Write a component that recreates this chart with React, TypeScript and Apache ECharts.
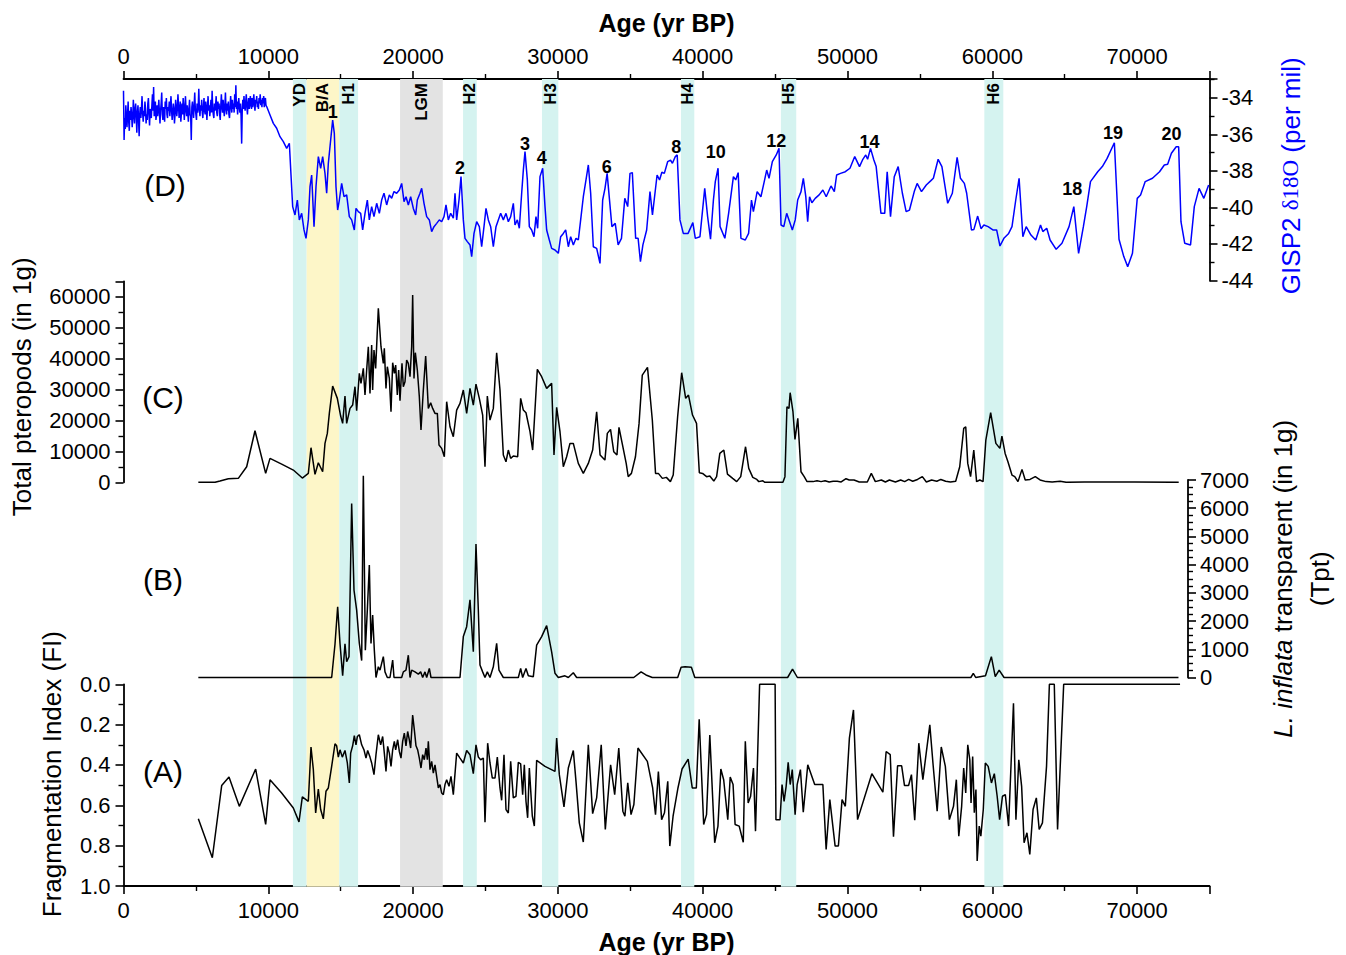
import React, { useEffect, useRef } from "react";
import * as echarts from "echarts";

const FONT = "'Liberation Sans', Arial, Helvetica, sans-serif";

// Shaded intervals (yr BP)
const bandNames = ["YD", "B/A", "H1", "LGM", "H2", "H3", "H4", "H5", "H6"];
const bandStart = [11700, 12650, 14900, 19100, 23450, 28900, 38500, 45400, 59450];
const bandEnd = [12650, 14900, 16200, 22050, 24400, 30030, 39420, 46460, 60760];
const bandKind = ["cold", "warm", "cold", "lgm", "cold", "cold", "cold", "cold", "cold"];
const bandColors: Record<string, string> = { cold: "#d5f3f0", warm: "#fdf6c8", lgm: "#e3e3e3" };

// Interstadial numbers on the GISP2 curve: [label, age, d18O]
const peakLabels: [string, number, number][] = [
  ["1", 14450, -34.79], ["2", 23240, -37.85], ["3", 27730, -36.52], ["4", 28880, -37.31],
  ["6", 33370, -37.76], ["8", 38170, -36.67], ["10", 40900, -36.98], ["12", 45080, -36.36],
  ["14", 51520, -36.39], ["18", 65530, -39.0], ["19", 68330, -35.9], ["20", 72370, -35.97],
];

// (D) GISP2 d18O (per mil)
const gisp2Data: [number, number][] = [
  [0,-33.6],[40,-36.3],[80,-35.1],[120,-35.7],[160,-34.4],[200,-35.0],[240,-35.6],[280,-34.9],[320,-34.2],[360,-35.3],
  [400,-35.8],[440,-34.7],[480,-35.2],[520,-34.5],[560,-34.9],[600,-35.6],[640,-35.1],[680,-34.1],[720,-34.8],[760,-35.4],
  [800,-34.6],[840,-34.3],[880,-35.0],[920,-35.9],[960,-34.8],[1000,-34.4],[1040,-35.2],[1080,-36.1],[1120,-34.9],[1160,-34.5],
  [1200,-35.1],[1240,-34.6],[1280,-33.9],[1320,-34.8],[1360,-35.3],[1400,-34.7],[1440,-35.0],[1480,-34.2],[1520,-34.6],[1560,-35.4],
  [1600,-34.9],[1640,-35.2],[1680,-34.3],[1720,-34.0],[1760,-34.9],[1800,-35.5],[1840,-34.6],[1880,-34.8],[1920,-35.1],[1960,-34.4],
  [2000,-33.8],[2040,-34.7],[2080,-33.4],[2120,-35.0],[2160,-34.5],[2200,-34.2],[2240,-35.2],[2280,-34.9],[2320,-34.4],[2360,-35.0],
  [2400,-34.6],[2440,-34.1],[2480,-34.8],[2520,-35.4],[2560,-34.7],[2600,-34.3],[2640,-33.7],[2680,-34.9],[2720,-35.2],[2760,-34.5],
  [2800,-34.8],[2840,-35.3],[2880,-34.2],[2920,-34.6],[2960,-34.0],[3000,-34.9],[3040,-35.1],[3080,-34.5],[3120,-34.7],[3160,-34.2],
  [3200,-35.0],[3240,-34.4],[3280,-33.9],[3320,-34.7],[3360,-35.2],[3400,-34.8],[3440,-34.3],[3480,-34.6],[3520,-35.4],[3560,-34.9],
  [3600,-34.1],[3640,-34.5],[3680,-35.0],[3720,-34.6],[3760,-33.8],[3800,-34.4],[3840,-35.1],[3880,-34.7],[3920,-34.2],[3960,-35.3],
  [4000,-34.8],[4040,-34.3],[4080,-34.9],[4120,-34.0],[4160,-34.6],[4200,-35.2],[4240,-34.5],[4280,-33.9],[4320,-34.7],[4360,-35.0],
  [4400,-34.4],[4440,-34.8],[4480,-35.3],[4520,-34.6],[4560,-34.1],[4600,-34.9],[4640,-35.0],[4680,-36.3],[4720,-34.5],[4760,-34.2],
  [4800,-34.7],[4840,-35.1],[4880,-34.4],[4920,-33.7],[4960,-34.6],[5000,-34.9],[5040,-35.2],[5080,-34.3],[5120,-34.8],[5160,-34.5],
  [5200,-33.5],[5240,-34.6],[5280,-35.0],[5320,-34.4],[5360,-34.7],[5400,-34.1],[5440,-34.8],[5480,-35.1],[5520,-34.5],[5560,-34.0],
  [5600,-34.7],[5640,-34.9],[5680,-34.2],[5720,-34.6],[5760,-35.2],[5800,-34.5],[5840,-33.9],[5880,-34.7],[5920,-34.4],[5960,-35.0],
  [6000,-34.6],[6040,-34.1],[6080,-34.8],[6120,-33.6],[6160,-34.5],[6200,-34.9],[6240,-35.1],[6280,-34.3],[6320,-34.7],[6360,-34.4],
  [6400,-33.9],[6440,-34.8],[6480,-35.0],[6520,-34.2],[6560,-34.6],[6600,-34.3],[6640,-34.9],[6680,-35.2],[6720,-34.4],[6760,-33.8],
  [6800,-34.5],[6840,-34.8],[6880,-34.1],[6920,-34.6],[6960,-35.0],[7000,-34.4],[7040,-33.7],[7080,-34.6],[7120,-34.9],[7160,-34.3],
  [7200,-34.7],[7240,-34.2],[7280,-34.9],[7320,-35.1],[7360,-34.5],[7400,-33.9],[7440,-34.4],[7480,-34.8],[7520,-34.1],[7560,-34.6],
  [7600,-34.3],[7640,-34.8],[7680,-33.8],[7720,-34.5],[7760,-33.3],[7800,-34.6],[7840,-34.2],[7880,-34.9],[7920,-34.4],[7960,-34.0],
  [8000,-34.5],[8040,-34.8],[8080,-34.3],[8120,-35.0],[8160,-36.5],[8200,-34.7],[8240,-34.1],[8280,-34.6],[8320,-33.9],[8360,-34.4],
  [8400,-34.7],[8440,-34.2],[8480,-33.8],[8520,-34.5],[8560,-34.9],[8600,-34.3],[8640,-34.0],[8680,-34.6],[8720,-34.4],[8760,-33.9],
  [8800,-34.3],[8840,-34.6],[8880,-34.0],[8920,-34.5],[8960,-34.2],[9000,-33.8],[9040,-34.4],[9080,-34.7],[9120,-34.1],[9160,-34.3],
  [9200,-33.9],[9240,-34.5],[9280,-34.2],[9320,-34.6],[9360,-34.0],[9400,-34.3],[9440,-33.8],[9480,-34.4],[9520,-34.1],[9560,-34.5],
  [9600,-34.0],[9640,-34.3],[9680,-33.9],[9720,-34.5],[9760,-34.2],[9800,-34.0],[9840,-34.4],
  [9887,-34.47],[10118,-34.93],[10348,-35.39],[10578,-35.66],[10808,-36.12],[11038,-36.39],[11269,-36.76],[11453,-36.48],[11568,-38.22],[11683,-39.95],[11844,-40.41],[12005,-39.59],[12143,-40.68],[12305,-40.32],[12466,-41.23],[12604,-41.69],[12765,-40.68],[12880,-38.86],[12995,-38.22],[13157,-41.05],[13294,-38.86],[13456,-37.21],[13617,-37.85],[13755,-37.21],[13916,-38.13],[14031,-39.22],[14146,-37.58],[14307,-36.3],[14445,-35.21],[14560,-35.94],[14675,-38.86],[14790,-40.14],[14906,-39.59],[15067,-38.68],[15228,-39.41],[15412,-39.31],[15596,-40.5],[15757,-40.68],[15941,-41.23],[16056,-40.05],[16217,-40.23],[16379,-40.32],[16517,-41.23],[16678,-40.32],[16839,-39.59],[16977,-40.68],[17138,-39.95],[17299,-40.5],[17484,-39.77],[17668,-40.32],[17829,-39.59],[17990,-39.22],[18175,-39.86],[18359,-39.31],[18520,-39.5],[18681,-39.13],[18865,-39.22],[19049,-39.04],[19211,-38.68],[19372,-39.68],[19510,-39.41],[19671,-39.86],[19832,-39.41],[20016,-40.05],[20177,-40.41],[20292,-39.59],[20477,-39.22],[20592,-38.95],[20753,-39.77],[20937,-40.5],[21121,-40.68],[21282,-41.32],[21443,-41.05],[21628,-40.87],[21812,-40.68],[21973,-40.78],[22134,-40.5],[22272,-39.86],[22433,-40.68],[22594,-40.32],[22779,-40.59],[22894,-39.22],[23009,-40.68],[23170,-39.59],[23308,-38.31],[23469,-40.68],[23584,-41.69],[23745,-41.87],[23930,-42.05],[24045,-42.69],[24206,-41.42],[24390,-40.78],[24574,-41.05],[24735,-42.15],[24896,-41.05],[25034,-40.05],[25196,-40.68],[25357,-41.05],[25541,-42.15],[25725,-41.05],[25886,-40.68],[26047,-40.32],[26232,-40.68],[26416,-40.32],[26577,-40.78],[26738,-40.5],[26922,-39.77],[27037,-40.96],[27198,-40.68],[27336,-41.14],[27498,-39.22],[27613,-37.95],[27728,-36.94],[27889,-38.49],[28027,-41.05],[28188,-41.23],[28349,-41.6],[28487,-40.5],[28602,-41.14],[28764,-38.31],[28948,-37.85],[29109,-39.95],[29224,-41.23],[29408,-41.78],[29569,-42.24],[29799,-42.33],[30029,-42.51],[30191,-41.6],[30375,-41.42],[30536,-41.23],[30720,-42.15],[30882,-41.6],[31066,-42.05],[31250,-41.69],[31411,-41.78],[31572,-40.68],[31756,-39.41],[31940,-38.49],[32102,-37.67],[32263,-39.22],[32447,-42.15],[32677,-42.24],[32907,-43.06],[33092,-39.59],[33253,-38.95],[33400,-38.13],
  [33730,-41.05],[33960,-40.87],[34160,-42.05],[34390,-41.69],[34620,-39.5],[34820,-39.95],[34980,-38.13],[35140,-38.09],[35370,-41.69],[35540,-41.69],[35700,-42.97],[35870,-42.05],[36130,-41.23],[36360,-39.13],[36530,-40.41],[36850,-38.22],[37020,-38.49],[37180,-38.07],[37350,-38.13],[37580,-37.49],[37780,-37.4],[37910,-37.58],[38110,-37.21],[38240,-37.12],[38430,-40.68],[38660,-41.42],[38990,-41.42],[39320,-40.83],[39490,-41.69],[39810,-41.6],[40140,-38.95],[40340,-40.5],[40540,-41.74],[40740,-39.59],[40870,-38.58],[41060,-37.85],[41200,-41.05],[41530,-41.69],[41790,-40.32],[42120,-38.31],[42280,-38.49],[42450,-38.09],[42640,-41.69],[42940,-41.78],[43170,-41.42],[43370,-39.59],[43500,-40.23],[43760,-39.13],[44020,-39.41],[44250,-38.58],[44420,-37.95],[44580,-38.4],[44810,-37.49],[45080,-37.12],[45270,-36.76],[45410,-40.96],[45600,-41.05],[45800,-40.32],[46000,-40.78],[46190,-41.23],[46390,-40.68],[46560,-39.59],[46790,-39.13],[46950,-38.4],[47120,-39.41],[47250,-40.78],[47380,-39.41],[47540,-39.74],[47770,-39.5],[48040,-39.31],[48300,-39.04],[48530,-39.41],[48860,-38.82],[49090,-39.13],[49250,-38.22],[49520,-38.13],[49850,-38.04],[50170,-37.85],[50500,-37.21],[50830,-37.76],[51060,-37.36],[51260,-37.12],[51390,-37.36],[51590,-36.76],[51820,-37.4],[51980,-37.76],[52310,-40.32],[52570,-40.32],[52740,-38.04],[52970,-40.5],[53230,-38.31],[53500,-37.76],[53790,-39.22],[54050,-40.23],[54280,-40.14],[54610,-39.13],[54810,-38.68],[55110,-39.13],[55440,-38.77],[55760,-38.53],[55930,-38.4],[56260,-37.36],[56520,-37.76],[56920,-39.77],[57240,-39.22],[57570,-37.25],[57800,-38.4],[58070,-38.68],[58230,-39.22],[58560,-41.23],[58730,-41.2],[58990,-40.47],[59220,-41.16],[59420,-40.96],[59710,-41.05],[60040,-41.23],[60300,-41.23],[60530,-42.11],[60800,-41.69],[61130,-41.42],[61360,-41.05],[61620,-39.59],[61850,-38.4],[62110,-41.6],[62340,-41.05],[62670,-41.51],[63000,-41.78],[63330,-40.96],[63490,-41.32],[63760,-41.14],[63990,-41.78],[64410,-42.29],[64810,-41.96],[65300,-41.05],[65630,-39.95],[65960,-42.51],[66290,-41.05],[66520,-39.95],[66780,-38.58],[67280,-38.04],[67600,-37.76],[67930,-37.31],[68430,-36.45],[68750,-41.74],[69080,-42.69],[69350,-43.24],[69680,-42.51],[70010,-39.5],[70240,-39.31],[70560,-38.58],[71060,-38.4],[71550,-38.04],[71880,-37.67],[72110,-37.63],[72370,-37.03],[72700,-36.67],[72870,-36.67],[73030,-40.78],[73290,-41.96],[73690,-42.05],[73950,-39.95],[74280,-38.95],[74610,-39.5],[74940,-38.77],
];

// (C) Total pteropods (in 1 g)
const pteropodData: [number, number][] = [
  [5168,0],[6319,0],[6664,400],[7240,1160],[7930,1270],[8506,5040],[9081,16680],[9818,2880],[10117,7730],[10923,5900],[11729,3960],[12350,1370],[12764,2880],[12949,11180],[13225,2560],[13455,6330],[13754,3420],[13915,12580],[14076,15820],[14215,22280],[14445,31130],[14767,27140],[14997,21420],[15135,19050],[15296,27890],[15412,19050],[15642,23900],[15826,24980],[15987,30910],[16102,23150],[16286,35220],[16402,31990],[16563,36840],[16678,28210],[16793,36300],[16908,43850],[17023,28750],[17138,44390],[17207,29830],[17299,42770],[17414,36840],[17599,56240],[17783,43850],[17944,38460],[18013,43310],[18128,30370],[18220,37380],[18359,33600],[18474,22820],[18589,38670],[18704,35220],[18796,37920],[18911,28210],[19003,36300],[19095,26380],[19233,38460],[19325,30910],[19440,32530],[19555,39530],[19670,38460],[19786,34140],[19901,43850],[19970,60550],[20062,33600],[20154,41910],[20292,36300],[20430,27670],[20545,16900],[20706,29830],[20868,40830],[21052,23900],[21213,25730],[21351,23900],[21512,22280],[21674,22280],[21789,12040],[21973,10970],[22157,8270],[22318,26060],[22548,17970],[22778,14740],[23008,23360],[23239,25520],[23469,29830],[23699,22280],[23929,30370],[24159,24980],[24343,31770],[24574,27140],[24804,21750],[24965,5040],[25126,27890],[25310,20130],[25540,23900],[25770,41910],[26001,29830],[26231,8810],[26415,6650],[26576,10430],[26738,7730],[26922,8490],[27221,8270],[27428,27140],[27612,23360],[27796,22500],[28073,16360],[28257,10430],[28579,36510],[28878,34140],[29223,30370],[29568,31990],[29730,8810],[29914,24220],[30144,16360],[30374,5040],[30604,8270],[30834,12580],[31064,12580],[31410,6110],[31755,2880],[32100,6110],[32400,10430],[32676,22820],[32914,8810],[33247,7190],[33413,15820],[33635,17110],[33857,9890],[34079,8810],[34218,17760],[34440,12580],[34717,6110],[34856,1830],[35078,2880],[35356,8270],[35605,19050],[35828,34680],[36188,37160],[36521,20130],[36743,2880],[36937,2880],[37215,1270],[37492,1590],[37770,220],[37964,2340],[38269,21210],[38547,35440],[38824,27140],[39018,28210],[39296,21750],[39573,19050],[39768,3100],[39990,2880],[40267,1830],[40489,2020],[40767,400],[40961,1830],[41183,9350],[41460,10430],[41710,2660],[42071,1270],[42348,220],[42626,1830],[42959,11500],[43181,4500],[43459,1590],[43736,930],[43875,220],[44153,510],[44291,0],[45540,0],[45679,1830],[45818,24440],[45957,23900],[46040,28970],[46234,22820],[46373,13880],[46567,20670],[46789,3420],[47011,1830],[47205,220],[47621,220],[47899,510],[48176,220],[48454,510],[48731,100],[49009,340],[49286,340],[49564,100],[49897,1160],[50118,750],[50451,750],[50812,100],[51368,100],[51645,2880],[51923,220],[52339,750],[52616,100],[52894,750],[53310,100],[53671,750],[53948,220],[54226,930],[54503,340],[54836,930],[55169,1830],[55447,100],[55807,750],[56168,340],[56446,930],[56779,340],[57112,100],[57472,340],[57750,5040],[58027,17430],[58166,17970],[58305,6110],[58499,1830],[58721,10430],[58915,220],[59137,750],[59360,220],[59554,13660],[59887,22500],[60247,12580],[60525,10970],[60664,14960],[60886,9350],[61080,6650],[61358,2340],[61552,1830],[61774,220],[62051,4180],[62273,750],[62606,930],[62967,1830],[63300,750],[63716,220],[64132,100],[64687,340],[65104,0],[66353,100],[69821,100],[72874,0],
];

// (B) L. inflata transparent (in 1 g)
const inflataData: [number, number][] = [
  [5168,0],[14376,0],[14606,1180],[14790,2510],[14951,1210],[15135,60],[15296,1190],[15412,560],[15573,740],[15757,6170],[15918,3100],[16102,2390],[16286,1210],[16448,600],[16563,7150],[16701,970],[16839,2390],[16977,3990],[17092,1210],[17207,2210],[17322,970],[17437,0],[17599,380],[17714,260],[17829,500],[17944,740],[18059,200],[18220,0],[18404,0],[18589,620],[18681,0],[19210,0],[19325,200],[19509,260],[19670,790],[19786,0],[19901,260],[20131,200],[20361,120],[20522,200],[20660,0],[20822,200],[20937,0],[21121,320],[21236,0],[23239,0],[23469,1450],[23699,1800],[23929,2750],[24159,910],[24343,4730],[24504,2390],[24619,440],[24804,200],[24965,0],[25126,200],[25310,0],[25540,380],[25770,1210],[25931,260],[26231,0],[27267,0],[27428,320],[27566,0],[27796,320],[27957,60],[28303,30],[28533,1150],[28878,1450],[29223,1840],[29568,910],[29799,150],[30029,0],[30489,60],[30720,0],[31064,170],[31295,0],[35237,0],[35744,200],[36081,90],[36520,0],[38274,0],[38510,360],[38780,380],[39219,360],[39455,0],[45865,0],[46203,300],[46540,0],[58518,0],[58687,150],[58855,0],[59530,60],[59935,740],[60204,30],[60474,260],[60811,0],[72857,0],
];

// (A) Fragmentation Index
const fiData: [number, number][] = [
  [5168,0.667],[6135,0.86],[6780,0.502],[7286,0.46],[7999,0.605],[9127,0.42],[9818,0.695],[10117,0.473],[10923,0.539],[11729,0.613],[12120,0.682],[12350,0.558],[12764,0.58],[12949,0.311],[13110,0.423],[13271,0.638],[13455,0.519],[13616,0.621],[13800,0.667],[13984,0.53],[14145,0.514],[14376,0.407],[14606,0.295],[14721,0.305],[14836,0.361],[14951,0.325],[15112,0.361],[15296,0.328],[15458,0.39],[15596,0.489],[15688,0.341],[15826,0.305],[15941,0.255],[16056,0.3],[16148,0.259],[16286,0.25],[16448,0.3],[16609,0.325],[16747,0.366],[16862,0.328],[17023,0.361],[17138,0.39],[17299,0.448],[17437,0.349],[17599,0.25],[17760,0.3],[17898,0.259],[18013,0.341],[18128,0.432],[18243,0.308],[18359,0.341],[18474,0.407],[18589,0.325],[18704,0.283],[18796,0.325],[18934,0.275],[19049,0.333],[19164,0.366],[19279,0.283],[19394,0.242],[19509,0.305],[19624,0.234],[19739,0.275],[19832,0.316],[19970,0.152],[20085,0.226],[20200,0.305],[20315,0.325],[20430,0.366],[20545,0.415],[20660,0.349],[20775,0.374],[20891,0.316],[20983,0.374],[21052,0.283],[21167,0.423],[21282,0.382],[21397,0.44],[21512,0.399],[21627,0.456],[21743,0.514],[21858,0.497],[21973,0.539],[22088,0.547],[22203,0.497],[22318,0.473],[22479,0.506],[22617,0.456],[22778,0.547],[23008,0.341],[23239,0.366],[23469,0.39],[23699,0.328],[23929,0.349],[24159,0.443],[24343,0.3],[24504,0.361],[24665,0.374],[24850,0.366],[24965,0.684],[25149,0.292],[25310,0.39],[25471,0.465],[25655,0.465],[25816,0.361],[26001,0.514],[26116,0.575],[26277,0.349],[26415,0.621],[26576,0.638],[26738,0.382],[26922,0.563],[27106,0.555],[27267,0.387],[27428,0.394],[27566,0.547],[27681,0.399],[27796,0.58],[27911,0.662],[28027,0.415],[28119,0.522],[28234,0.654],[28372,0.703],[28533,0.377],[29108,0.407],[29799,0.432],[29914,0.267],[30098,0.448],[30420,0.608],[30720,0.415],[31064,0.328],[31249,0.481],[31479,0.687],[31755,0.782],[32100,0.3],[32400,0.641],[32676,0.563],[32992,0.3],[33274,0.72],[33640,0.399],[33922,0.547],[34204,0.316],[34486,0.629],[34627,0.654],[34824,0.489],[35050,0.646],[35247,0.596],[35529,0.316],[36177,0.382],[36544,0.514],[36741,0.646],[36939,0.432],[37164,0.671],[37361,0.637],[37587,0.481],[37728,0.802],[37954,0.654],[38292,0.514],[38574,0.42],[38996,0.371],[39278,0.514],[39560,0.514],[39758,0.173],[40068,0.695],[40265,0.646],[40491,0.251],[40829,0.786],[41054,0.703],[41252,0.42],[41449,0.473],[41731,0.671],[41900,0.46],[42097,0.497],[42238,0.695],[42520,0.703],[42802,0.783],[42943,0.283],[43140,0.588],[43309,0.555],[43506,0.415],[43647,0.728],[43930,0],[45001,0],[45057,0.671],[45339,0.671],[45480,0.497],[45621,0.58],[45762,0.506],[45903,0.387],[46044,0.497],[46185,0.423],[46383,0.646],[46523,0.497],[46749,0.423],[46946,0.634],[47256,0.399],[47735,0.497],[48299,0.497],[48525,0.819],[48779,0.572],[49145,0.802],[49371,0.802],[49624,0.572],[49850,0.605],[50131,0.267],[50413,0.127],[50695,0.671],[51682,0.443],[52443,0.535],[52669,0.333],[52951,0.349],[53176,0.756],[53458,0.404],[53740,0.404],[53937,0.502],[54219,0.502],[54416,0.448],[54642,0.674],[54924,0.292],[55206,0.473],[55431,0.344],[55685,0.201],[55911,0.399],[56193,0.629],[56475,0.311],[56757,0.407],[57038,0.671],[57320,0.605],[57517,0.473],[57686,0.753],[57883,0.605],[58024,0.415],[58165,0.539],[58306,0.3],[58447,0.374],[58532,0.588],[58644,0.358],[58757,0.637],[58870,0.522],[58955,0.876],[59096,0.703],[59209,0.753],[59378,0.621],[59518,0.39],[59716,0.407],[59941,0.489],[60139,0.443],[60336,0.555],[60505,0.671],[60702,0.555],[60899,0.547],[61125,0.703],[61463,0.094],[61632,0.671],[61829,0.374],[62026,0.506],[62195,0.786],[62393,0.736],[62590,0.843],[62815,0.621],[63041,0.563],[63238,0.72],[63463,0.687],[63745,0.407],[63943,0],[64281,0],[64507,0.72],[64930,0],[72966,0],
];

const BLACK = "#000";
const axisLine = { show: true, onZero: false, lineStyle: { color: BLACK, width: 1.8 } };
const axisTick = { show: true, inside: false, length: 8, lineStyle: { color: BLACK, width: 1.6 } };
const minorTick = (n: number) => ({ show: true, splitNumber: n, length: 5, lineStyle: { color: BLACK, width: 1.4 } });
const labelBase = { color: BLACK, fontSize: 22, fontFamily: FONT };
const titleStyle = { color: BLACK, fontSize: 26, fontFamily: FONT };

const ageLabel = (v: number) => (v % 10000 === 0 ? String(v) : "");

function buildOption(): any {
  const hiddenX = (grid: number, max: number) => ({
    gridIndex: grid, type: "value", min: 0, max, show: false,
    axisLine: { onZero: false }, splitLine: { show: false },
  });
  const markLabel = {
    show: true, formatter: "{b}", color: "#000000", fontSize: 18, fontWeight: "bold", fontFamily: FONT,
    textBorderWidth: 0, textShadowBlur: 0, opacity: 1,
  };
  return {
    animation: false,
    backgroundColor: "#fff",
    grid: [
      { left: 123.5, top: 79, width: 1086, height: 807.7 },
      { left: 123.5, top: 79, width: 1086, height: 201.5 },
      { left: 123.5, top: 281.3, width: 1086, height: 201 },
      { left: 123.5, top: 480, width: 1064.5, height: 197.5 },
      { left: 123.5, top: 684.3, width: 1086, height: 202.4 },
    ],
    xAxis: [
      hiddenX(0, 75000),
      {
        gridIndex: 1, type: "value", min: 0, max: 75000, interval: 10000, position: "top",
        axisLine, axisTick, minorTick: minorTick(2), splitLine: { show: false },
        axisLabel: { ...labelBase, margin: 12, formatter: ageLabel },
        name: "Age (yr BP)", nameLocation: "middle", nameGap: 44,
        nameTextStyle: { ...titleStyle, fontSize: 25, fontWeight: "bold" },
      },
      hiddenX(2, 75000),
      hiddenX(3, 1064.5 / 1086 * 75000),
      {
        gridIndex: 4, type: "value", min: 0, max: 75000, interval: 10000, position: "bottom",
        axisLine, axisTick, minorTick: minorTick(2), splitLine: { show: false },
        axisLabel: { ...labelBase, margin: 13, formatter: ageLabel },
        name: "Age (yr BP)", nameLocation: "middle", nameGap: 43,
        nameTextStyle: { ...titleStyle, fontSize: 25, fontWeight: "bold" },
      },
    ],
    yAxis: [
      { gridIndex: 0, type: "value", min: 0, max: 1, inverse: true, show: false, splitLine: { show: false } },
      {
        gridIndex: 1, type: "value", min: -44, max: -32.96, interval: 2, position: "right",
        axisLine, axisTick, minorTick: minorTick(2), splitLine: { show: false },
        axisLabel: {
          ...labelBase, margin: 12,
          formatter: (v: number) => (Math.abs(v - Math.round(v)) < 1e-6 && v <= -34 ? String(Math.round(v)) : ""),
        },
        name: "{a|GISP2 }{b|δ18O}{a| (per mil)}", nameLocation: "middle", nameRotate: 90, nameGap: 68,
        nameTextStyle: {
          color: "#0000ff",
          padding: [0, 0, 0, 8],
          rich: {
            a: { color: "#0000ff", fontSize: 26, fontFamily: FONT },
            b: { color: "#0000ff", fontSize: 23, fontFamily: "'Liberation Serif', 'DejaVu Serif', serif" },
          },
        },
      },
      {
        gridIndex: 2, type: "value", min: 0, max: 65000, interval: 10000, position: "left",
        axisLine, axisTick, minorTick: minorTick(2), splitLine: { show: false },
        axisLabel: { ...labelBase, margin: 13, formatter: (v: number) => (v <= 60000 ? String(v) : "") },
        name: "Total pteropods (in 1g)", nameLocation: "middle", nameRotate: 90, nameGap: 89,
        nameTextStyle: { ...titleStyle, padding: [0, 10, 0, 0] },
      },
      {
        gridIndex: 3, type: "value", min: 0, max: 7000, interval: 1000, position: "right",
        axisLine, axisTick, minorTick: minorTick(4), splitLine: { show: false },
        axisLabel: { ...labelBase, margin: 12, formatter: (v: number) => String(v) },
        name: "{i|L. inflata}{n| transparent (in 1g)}\n{n|(Tpt)}", nameLocation: "middle", nameRotate: 90, nameGap: 76,
        nameTextStyle: {
          color: BLACK,
          rich: {
            i: { color: BLACK, fontSize: 26, fontFamily: FONT, fontStyle: "italic", lineHeight: 37 },
            n: { color: BLACK, fontSize: 26, fontFamily: FONT, lineHeight: 37 },
          },
        },
      },
      {
        gridIndex: 4, type: "value", min: 0, max: 1, interval: 0.2, inverse: true, position: "left",
        axisLine, axisTick, minorTick: minorTick(2), splitLine: { show: false },
        axisLabel: { ...labelBase, margin: 13, formatter: (v: number) => v.toFixed(1) },
        name: "Fragmentation Index (FI)", nameLocation: "middle", nameRotate: 90, nameGap: 59,
        nameTextStyle: { ...titleStyle, padding: [0, 0, 0, 22] },
      },
    ],
    graphic: [
      ["(D)", 165, 185], ["(C)", 163, 397], ["(B)", 163, 579], ["(A)", 163, 771],
    ].map(([t, x, y]) => ({
      type: "text", x, y, silent: true,
      style: { text: t, fontSize: 30, fontFamily: FONT, fill: BLACK, align: "center", verticalAlign: "middle" },
    })),
    series: [
      {
        type: "scatter", xAxisIndex: 0, yAxisIndex: 0, z: 1, silent: true,
        symbolSize: 1, itemStyle: { opacity: 0 },
        data: bandNames.map((n, i) => ({ name: n, value: [(bandStart[i] + bandEnd[i]) / 2, 0.005] })),
        label: { ...markLabel, fontSize: 17, position: "inside", rotate: 90, align: "right", verticalAlign: "middle" },
        markArea: {
          silent: true,
          data: bandNames.map((_, i) => [
            { xAxis: bandStart[i], itemStyle: { color: bandColors[bandKind[i]], opacity: 1 } },
            { xAxis: bandEnd[i] },
          ]),
        },
      },
      {
        type: "line", xAxisIndex: 1, yAxisIndex: 1, z: 3, symbol: "none", data: gisp2Data,
        lineStyle: { color: "#0000ff", width: 1.5 },
      },
      {
        type: "scatter", xAxisIndex: 1, yAxisIndex: 1, z: 4, silent: true,
        symbolSize: 1, itemStyle: { opacity: 0 },
        data: peakLabels.map(([t, a, v]) => ({ name: t, value: [a, v] })),
        label: { ...markLabel, position: "inside" },
      },
      {
        type: "line", xAxisIndex: 2, yAxisIndex: 2, z: 3, symbol: "none", data: pteropodData,
        lineStyle: { color: BLACK, width: 1.5 },
      },
      {
        type: "line", xAxisIndex: 3, yAxisIndex: 3, z: 3, symbol: "none", data: inflataData, clip: false,
        lineStyle: { color: BLACK, width: 1.5 },
      },
      {
        type: "line", xAxisIndex: 4, yAxisIndex: 4, z: 3, symbol: "none", data: fiData, clip: false,
        lineStyle: { color: BLACK, width: 1.5 },
      },
    ],
  };
}

export default function App() {
  const ref = useRef<HTMLDivElement>(null);
  useEffect(() => {
    document.body.style.margin = "0";
    const chart = echarts.init(ref.current as HTMLDivElement, null, { renderer: "svg" });
    chart.setOption(buildOption());
    return () => chart.dispose();
  }, []);
  return <div ref={ref} style={{ width: 1346, height: 955 }} />;
}
